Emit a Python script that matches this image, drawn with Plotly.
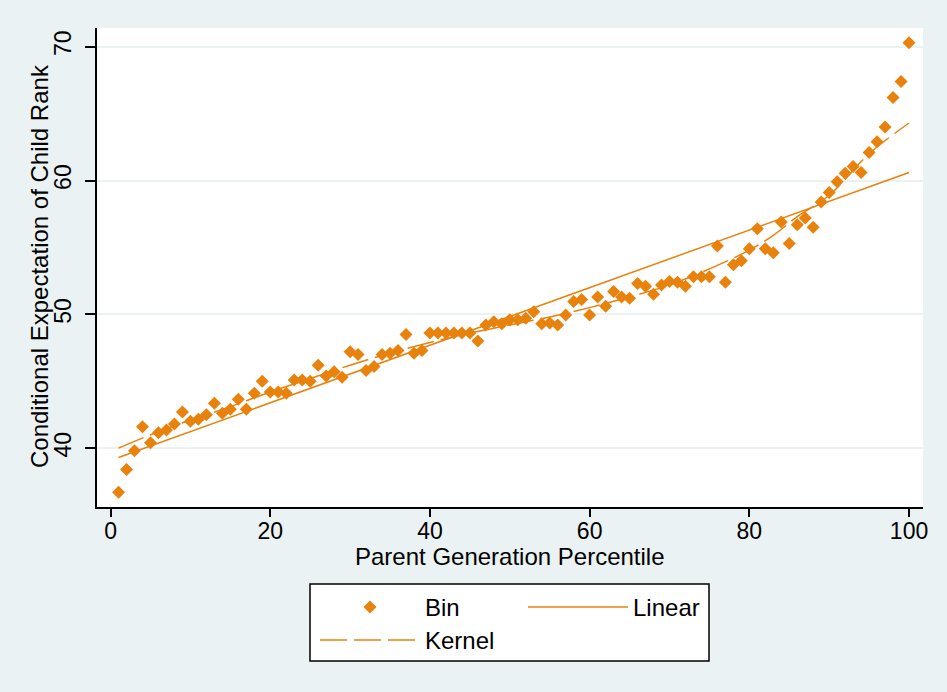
import plotly.graph_objects as go

# ---------------- data ----------------
percentile = list(range(1, 101))
child_rank = [
    36.7, 38.4, 39.8, 41.6, 40.4, 41.15, 41.35, 41.8, 42.7, 42.0,
    42.15, 42.5, 43.35, 42.6, 42.9, 43.65, 42.9, 44.1, 45.0, 44.2,
    44.2, 44.1, 45.1, 45.1, 45.0, 46.2, 45.4, 45.7, 45.3, 47.2,
    47.0, 45.8, 46.1, 47.0, 47.1, 47.3, 48.5, 47.1, 47.3, 48.6,
    48.6, 48.6, 48.6, 48.6, 48.6, 48.0, 49.2, 49.45, 49.3, 49.6,
    49.6, 49.7, 50.2, 49.3, 49.35, 49.2, 49.95, 50.95, 51.1, 49.95,
    51.3, 50.6, 51.7, 51.3, 51.2, 52.3, 52.1, 51.5, 52.2, 52.45,
    52.4, 52.1, 52.8, 52.8, 52.8, 55.1, 52.4, 53.7, 54.0, 54.9,
    56.4, 54.9, 54.6, 56.9, 55.3, 56.7, 57.2, 56.5, 58.4, 59.1,
    59.9, 60.55, 61.05, 60.6, 62.1, 62.9, 64.0, 66.2, 67.4, 70.3,
]
linear_x = [1, 100]
linear_y = [39.3, 60.6]
kernel_x = [1, 5, 10, 15, 20, 25, 30, 35, 40, 45, 50, 55, 60, 65, 70, 75, 80, 83, 86, 90, 95, 100]
kernel_y = [40.0, 41.0, 42.1, 43.1, 44.2, 45.2, 46.2, 47.1, 47.9, 48.6, 49.2, 49.8,
            50.5, 51.3, 52.2, 53.4, 54.8, 55.9, 57.3, 58.9, 62.0, 64.3]
x_ticks = [0, 20, 40, 60, 80, 100]
y_ticks = [40, 50, 60, 70]
x_title = "Parent Generation Percentile"
y_title = "Conditional Expectation of Child Rank"

# ---------------- style ----------------
ORANGE = "#E8820C"
BG = "#EAF2F3"
FONT = "Liberation Sans, Arial, sans-serif"
W, H = 947, 692
L, R, T, B = 97, 24, 28, 185
PW, PH = W - L - R, H - T - B


def px_to_paper_x(px):
    return (px - L) / PW


def px_to_paper_y(py):
    return (T + PH - py) / PH


fig = go.Figure()
fig.add_trace(go.Scatter(
    x=percentile, y=child_rank, mode="markers", name="Bin",
    marker=dict(symbol="diamond", size=10, color=ORANGE, line=dict(width=0)),
    legend="legend"))
fig.add_trace(go.Scatter(
    x=linear_x, y=linear_y, mode="lines", name="Linear",
    line=dict(color=ORANGE, width=1.5), legend="legend"))
fig.add_trace(go.Scatter(
    x=kernel_x, y=kernel_y, mode="lines", name="Kernel",
    line=dict(color=ORANGE, width=1.5, dash="27px,7px", shape="spline"),
    legend="legend2"))

legend_common = dict(
    orientation="h", xref="container", yref="container",
    xanchor="left", yanchor="top", itemwidth=100,
    entrywidth=93, entrywidthmode="pixels",
    font=dict(size=24, family=FONT, color="black"),
    bgcolor="rgba(0,0,0,0)", borderwidth=0, tracegroupgap=0,
)

# legend frame
bx0, bx1, by0, by1 = 310, 709, 584, 661
fig.add_shape(type="rect", xref="paper", yref="paper",
              x0=px_to_paper_x(bx0), x1=px_to_paper_x(bx1),
              y0=px_to_paper_y(by1), y1=px_to_paper_y(by0),
              line=dict(color="black", width=1.5), fillcolor="white", layer="above")

# axis titles
fig.add_annotation(text=x_title, xref="paper", yref="paper",
                   x=px_to_paper_x(510), y=px_to_paper_y(556),
                   xanchor="center", yanchor="middle", showarrow=False,
                   font=dict(size=24, family=FONT, color="black"))
fig.add_annotation(text=y_title, xref="paper", yref="paper",
                   x=px_to_paper_x(39), y=px_to_paper_y(266),
                   xanchor="center", yanchor="middle", showarrow=False,
                   textangle=-90, font=dict(size=24, family=FONT, color="black"))

fig.update_layout(
    width=W, height=H,
    margin=dict(l=L, r=R, t=T, b=B, autoexpand=False),
    paper_bgcolor=BG, plot_bgcolor="white",
    font=dict(family=FONT, size=24, color="black"),
    showlegend=True,
    legend=dict(legend_common, x=315 / W, y=1 - 585 / H),
    legend2=dict(legend_common, x=315 / W, y=1 - 618 / H),
    xaxis=dict(
        range=[-1.7, 101.75], tickvals=x_ticks, ticks="outside", ticklen=8,
        tickwidth=1.5, tickcolor="black", showline=True, linecolor="black",
        linewidth=1.5, showgrid=False, zeroline=False, automargin=False,
        tickfont=dict(size=23), ticklabelstandoff=-5,
    ),
    yaxis=dict(
        range=[35.6, 71.4], tickvals=y_ticks, tickangle=-90, ticks="outside",
        ticklen=10, tickwidth=1.5, tickcolor="black", showline=True,
        linecolor="black", linewidth=1.5, showgrid=True, gridcolor=BG,
        gridwidth=1.5, zeroline=False, automargin=False, tickfont=dict(size=23),
        ticklabelstandoff=5,
    ),
)

fig.write_html("out.html", config={"displayModeBar": False},
               post_script="document.body.style.margin='0';")
